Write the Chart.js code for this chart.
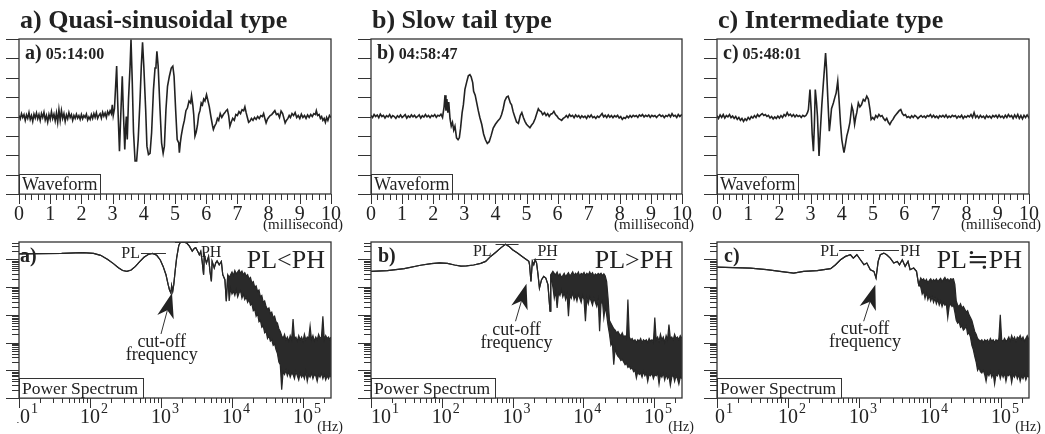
<!DOCTYPE html>
<html>
<head>
<meta charset="utf-8">
<script src="https://cdn.jsdelivr.net/npm/chart.js@4"></script>
<style>
  body { margin: 0; background: #fff; width: 1045px; height: 434px; position: relative; overflow: hidden; }
  canvas { position: absolute; }
</style>
</head>
<body>
<canvas id="waveA" width="350" height="232" style="left:0;top:0"></canvas>
<canvas id="waveB" width="350" height="232" style="left:350px;top:0"></canvas>
<canvas id="waveC" width="350" height="232" style="left:695px;top:0"></canvas>
<canvas id="specA" width="350" height="202" style="left:0;top:232px"></canvas>
<canvas id="specB" width="350" height="202" style="left:350px;top:232px"></canvas>
<canvas id="specC" width="350" height="202" style="left:695px;top:232px"></canvas>
<script>
// ---- data: waveforms [time (ms), amplitude (grid divisions)] ----
const waveTicks = [0, 1, 2, 3, 4, 5, 6, 7, 8, 9, 10];
const waveGrid = [-4, -3, -2, -1, 0, 1, 2, 3, 4];

const waveA = [[0,0.05],[0.04,-0.12],[0.08,0.15],[0.12,-0.05],[0.16,0.1],[0.2,-0.2],[0.24,0.08],[0.28,-0.1],[0.32,0.2],[0.36,-0.15],[0.4,0.05],[0.44,-0.25],[0.48,0.12],[0.52,-0.08],[0.56,0.18],[0.6,-0.12],[0.64,0.1],[0.68,-0.2],[0.72,0.15],[0.76,-0.05],[0.8,0.22],[0.84,-0.18],[0.88,0.05],[0.92,-0.28],[0.96,0.1],[1,-0.15],[1.04,0.25],[1.08,-0.1],[1.12,0.12],[1.16,-0.22],[1.2,0.18],[1.24,-0.3],[1.28,0.35],[1.32,-0.2],[1.36,0.3],[1.4,-0.1],[1.44,0.15],[1.48,-0.25],[1.52,0.08],[1.56,-0.12],[1.6,0.2],[1.64,-0.05],[1.68,0.1],[1.72,-0.2],[1.76,0.05],[1.8,-0.1],[1.84,0.12],[1.88,-0.08],[1.92,0.05],[1.96,-0.15],[2,0.1],[2.04,-0.12],[2.08,0.05],[2.12,-0.05],[2.16,0.12],[2.2,-0.18],[2.24,-0.02],[2.28,-0.15],[2.32,0.1],[2.36,-0.1],[2.4,0.15],[2.44,-0.05],[2.48,0.2],[2.52,-0.1],[2.56,0.05],[2.6,0.15],[2.64,-0.08],[2.68,0.22],[2.72,0.02],[2.76,0.18],[2.8,-0.05],[2.84,0.25],[2.88,0.1],[2.92,0.3],[2.96,0.15],[2.99,0.6],[3.02,0.05],[3.06,0.4],
  [3.13,2.6],[3.16,0.9],[3.22,-1.79],[3.26,0],[3.31,2.08],[3.34,0.5],[3.39,-1.7],[3.42,-0.5],[3.44,0],[3.47,-1.19],[3.51,0.9],[3.56,2.6],[3.59,3.97],[3.63,1.8],[3.67,-0.8],[3.72,-2.3],[3.77,-2.3],[3.82,-1.2],[3.88,0.9],[3.92,2.6],[3.96,3.83],[4,2.6],[4.06,0.36],[4.1,-1.53],[4.15,-1.96],[4.2,-1.9],[4.25,-0.84],[4.31,1.39],[4.36,2.5],[4.39,2.6],[4.42,3.37],[4.46,2.6],[4.52,0.36],[4.57,-1.36],[4.62,-1.9],[4.66,-1.53],[4.71,0.36],[4.76,1.56],[4.82,2.08],[4.88,2.5],[4.93,2.6],[4.97,2.08],[5.02,0.36],[5.07,-1.19],[5.12,-1.36],[5.14,-1.87],[5.17,-1.36],
  [5.2,-1],[5.25,-0.55],[5.3,-0.2],[5.35,0.3],[5.4,0.45],[5.45,0.8],[5.5,0.7],[5.53,1.08],[5.57,0.6],[5.6,0.1],[5.64,-1.01],[5.68,-0.8],[5.72,-0.45],[5.76,0.1],[5.8,0.3],[5.84,0.7],[5.88,0.6],[5.92,0.9],[5.96,0.8],[6.01,1.13],[6.05,0.85],[6.1,0.5],[6.15,0],[6.2,-0.45],[6.23,-0.67],[6.27,-0.5],[6.32,-0.35],[6.36,-0.1],[6.4,-0.2],[6.45,0.15],[6.5,-0.05],[6.55,0.1],[6.6,0.2],[6.64,0.3],[6.68,0.36],[6.72,0.05],[6.76,-0.5],[6.8,-0.3],[6.85,-0.1],[6.9,-0.2],[6.95,0.1],[7,0.05],[7.05,0.25],[7.1,0.15],[7.15,0.35],[7.2,0.3],[7.24,0.5],[7.28,0.2],[7.32,-0.05],[7.36,-0.3],[7.4,-0.25],[7.45,-0.1],[7.5,-0.2],[7.55,-0.05],[7.6,-0.15],[7.65,0],[7.7,-0.1],[7.75,0.05],[7.8,0],[7.84,0.15],[7.88,-0.1],[7.92,-0.33],[7.96,-0.15],[8,-0.05],[8.05,0.05],[8.1,0.1],[8.15,0.2],[8.2,0.3],[8.25,0.1],[8.3,0.15],[8.35,-0.05],[8.4,0.28],[8.45,0.15],[8.5,-0.15],[8.53,-0.33],[8.57,-0.2],[8.62,-0.1],[8.66,0.05],[8.7,-0.05],[8.75,0.15],[8.8,0.05],[8.85,0.2],[8.9,-0.05],[8.95,0.05],[9,-0.1],[9.05,0.12],[9.1,-0.05],[9.15,0.05],[9.2,-0.1],[9.25,0.08],[9.3,-0.05],[9.35,0.1],[9.4,0],[9.45,0.15],[9.5,0.1],[9.53,0.3],[9.57,0.05],[9.62,0.1],[9.66,-0.1],[9.7,0],[9.74,-0.2],[9.78,-0.1],[9.82,-0.3],[9.86,-0.05],[9.9,-0.2],[9.95,0.05],[10,-0.05]];

const waveB = [[0,0.05],[0.05,-0.05],[0.1,0.1],[0.15,0],[0.2,0.08],[0.25,-0.06],[0.3,0.12],[0.35,0],[0.4,0.06],[0.45,-0.08],[0.5,0.04],[0.55,-0.02],[0.6,0.1],[0.65,-0.06],[0.7,0.05],[0.75,0],[0.8,-0.1],[0.85,0.04],[0.9,-0.04],[0.95,0.08],[1,-0.05],[1.05,0.02],[1.1,0.1],[1.15,-0.08],[1.2,0.03],[1.25,-0.04],[1.3,0.08],[1.35,-0.02],[1.4,0.06],[1.45,-0.06],[1.5,0],[1.55,0.08],[1.6,-0.08],[1.65,0.04],[1.7,-0.03],[1.75,0.1],[1.8,-0.02],[1.85,0.05],[1.9,-0.06],[1.95,0.06],[2,0],[2.05,0.1],[2.1,-0.04],[2.15,0.06],[2.2,0.02],[2.25,0.12],[2.3,-0.05],
  [2.35,0.5],[2.38,1.1],[2.41,0.3],[2.44,0.9],[2.47,0.2],[2.5,0.75],[2.54,-0.1],[2.58,-0.5],[2.62,-0.3],[2.66,-0.7],[2.7,-0.5],[2.75,-1.1],[2.8,-1.2],[2.84,-1.1],[2.88,-0.6],[2.93,0.2],[2.97,0.6],[3.02,1.4],[3.08,1.8],[3.13,2.1],[3.18,2.16],[3.22,2.05],[3.27,1.75],[3.3,1.3],[3.35,1.1],[3.4,0.7],[3.45,0.3],[3.5,-0.05],[3.56,-0.4],[3.62,-0.9],[3.68,-1.2],[3.74,-1.39],[3.8,-1.3],[3.86,-1],[3.93,-0.6],[4,-0.4],[4.07,-0.25],[4.15,-0.1],[4.2,0.1],[4.25,0.4],[4.3,0.8],[4.36,1],[4.41,1.05],[4.45,0.85],[4.48,0.7],[4.52,0.6],[4.57,0.25],[4.62,0],[4.68,-0.28],[4.74,-0.35],[4.8,0.05],[4.85,0.2],[4.9,-0.05],[4.95,-0.25],[5,-0.4],[5.06,-0.5],[5.11,-0.58],[5.16,-0.45],[5.22,-0.33],[5.28,-0.1],[5.33,0.15],[5.38,0.4],[5.42,0.3],[5.47,0.25],[5.52,0.1],[5.58,0.2],[5.63,0.05],[5.68,0.15],[5.73,0],[5.78,0.12],[5.83,0.15],[5.88,0.27],[5.93,0.1],[5.98,0.02],[6.03,-0.1],[6.08,-0.15],[6.13,-0.2],[6.18,-0.1],[6.23,-0.05],[6.28,0.05],[6.33,-0.05],[6.38,0.1],[6.43,0],[6.48,0.06],[6.53,-0.06],[6.58,0.08],[6.63,-0.02],[6.68,0.05],[6.73,-0.08],[6.78,0.04],[6.83,-0.05],[6.88,0.02],[6.93,-0.1],[6.98,0.05],[7.03,-0.04],[7.08,0.08],[7.13,-0.06],[7.18,0],[7.23,-0.1],[7.28,0.02],[7.33,-0.05],[7.38,0.05],[7.43,0.15],[7.48,-0.02],[7.53,0.06],[7.58,-0.05],[7.63,0.08],[7.68,-0.04],[7.73,0.05],[7.78,-0.06],[7.83,0.04],[7.88,-0.02],[7.93,0.06],[7.98,-0.08],[8.03,0],[8.08,-0.15],[8.13,-0.05],[8.18,-0.1],[8.23,0.02],[8.28,-0.06],[8.33,0.05],[8.38,-0.04],[8.43,0.06],[8.48,0],[8.53,0.05],[8.58,-0.05],[8.63,0.08],[8.68,0.02],[8.73,0.1],[8.78,-0.02],[8.83,0.06],[8.88,0],[8.93,0.08],[8.98,-0.04],[9.03,0.06],[9.08,0],[9.13,0.05],[9.18,-0.05],[9.23,0.04],[9.28,0.1],[9.33,0],[9.38,0.06],[9.43,-0.06],[9.48,0.05],[9.53,0],[9.58,0.1],[9.63,-0.02],[9.68,0.15],[9.73,0.02],[9.78,0.06],[9.83,-0.05],[9.88,0.1],[9.93,0],[9.98,0.08],[10,0.05]];

const waveC = [[0,0.05],[0.05,-0.1],[0.1,0.08],[0.15,-0.05],[0.2,0.1],[0.25,-0.08],[0.3,0.05],[0.35,-0.02],[0.4,0.1],[0.45,-0.06],[0.5,0.02],[0.55,-0.1],[0.6,0],[0.65,-0.15],[0.7,-0.05],[0.75,-0.2],[0.8,-0.1],[0.85,-0.25],[0.9,-0.12],[0.95,-0.2],[1,-0.05],[1.05,-0.15],[1.1,0],[1.15,-0.08],[1.2,0.05],[1.25,-0.05],[1.3,0.1],[1.35,0],[1.4,0.08],[1.45,0.15],[1.5,0.05],[1.55,0.1],[1.6,0],[1.65,0.06],[1.7,-0.08],[1.75,0],[1.8,-0.12],[1.85,-0.02],[1.9,-0.1],[1.95,0.02],[2,-0.08],[2.05,0.05],[2.1,-0.05],[2.15,0.1],[2.2,0.02],[2.25,0.2],[2.3,0.05],[2.35,0.12],[2.4,0],[2.45,0.1],[2.5,-0.02],[2.55,0.08],[2.6,0],[2.65,0.05],[2.7,-0.05],[2.75,0.06],[2.8,0],[2.85,0.05],
  [2.9,0.2],[2.93,0.36],[2.98,1.39],[3.02,0.3],[3.05,-0.9],[3.09,-1.79],[3.12,-0.5],[3.15,1.39],[3.19,0.7],[3.22,0],[3.27,-2.04],[3.31,-0.8],[3.36,0.6],[3.41,1.74],[3.45,2.6],[3.48,3.28],[3.51,2.5],[3.55,1],[3.6,-0.76],[3.63,-0.3],[3.67,0.4],[3.73,0.7],[3.78,1],[3.82,1.22],[3.87,1.82],[3.91,0.9],[3.96,-0.4],[4,-1.19],[4.04,-1.6],[4.07,-1.87],[4.11,-1.5],[4.16,-1.01],[4.21,-0.7],[4.26,-0.3],[4.32,0.53],[4.36,0.3],[4.41,-0.4],[4.45,0],[4.48,0.2],[4.53,0.7],[4.58,0.5],[4.63,0.6],[4.69,0.88],[4.74,0.8],[4.8,1.05],[4.85,0.9],[4.9,0.4],[4.94,-0.15],[4.99,-0.05],[5.04,-0.15],[5.09,0.05],[5.14,-0.05],[5.19,0.1],[5.24,0],[5.29,0.05],[5.34,-0.1],[5.39,-0.2],[5.44,-0.1],[5.49,-0.3],[5.54,-0.41],[5.59,-0.25],[5.64,-0.15],[5.69,0],[5.74,0.1],[5.79,0.2],[5.84,0.3],[5.89,0.36],[5.94,0.15],[5.99,0.05],[6.04,0.1],[6.09,-0.05],[6.14,0],[6.19,-0.08],[6.24,0.04],[6.29,-0.05],[6.34,0.06],[6.39,0],[6.44,-0.1],[6.49,-0.02],[6.54,0.05],[6.59,-0.04],[6.64,0.02],[6.69,-0.06],[6.74,0.05],[6.79,0],[6.84,0.1],[6.89,-0.04],[6.94,0.06],[6.99,-0.05],[7.04,0.02],[7.09,-0.08],[7.14,0.04],[7.19,-0.02],[7.24,0.06],[7.29,-0.04],[7.34,0.08],[7.39,-0.06],[7.44,0.02],[7.49,-0.04],[7.54,0.06],[7.59,0],[7.64,0.05],[7.69,-0.08],[7.74,0.02],[7.79,-0.04],[7.84,0.06],[7.89,-0.1],[7.94,0.02],[7.99,-0.05],[8.04,0.05],[8.09,-0.02],[8.14,0.1],[8.19,-0.05],[8.24,0.2],[8.29,-0.05],[8.34,0.05],[8.39,-0.08],[8.44,0.06],[8.49,-0.04],[8.54,0.02],[8.59,-0.1],[8.64,0.05],[8.69,-0.05],[8.74,0.02],[8.79,-0.08],[8.84,0.05],[8.89,-0.02],[8.94,0.06],[8.99,-0.06],[9.04,0.08],[9.09,-0.04],[9.14,0.02],[9.19,-0.08],[9.24,0.06],[9.29,-0.05],[9.34,0.1],[9.39,-0.02],[9.44,0.05],[9.49,-0.1],[9.54,0.08],[9.59,-0.06],[9.64,0.1],[9.69,-0.1],[9.74,0.05],[9.79,-0.12],[9.84,0.06],[9.89,-0.05],[9.94,0.08],[9.99,-0.05],[10,0]];

// ---- data: power spectra, [log10 f, log10 power] then noisy band [log10 f, upper, lower] ----
const freqDecades = [1, 2, 3, 4, 5];
const powerDecades = [0, 1, 2, 3, 4, 5];

const specA_line = [[1,5.2],[1.3,5.21],[1.6,5.22],[1.9,5.25],[2.05,5.22],[2.15,5.15],[2.25,5],[2.33,4.85],[2.4,4.7],[2.46,4.6],[2.52,4.57],[2.58,4.62],[2.64,4.75],[2.7,4.92],[2.76,5.08],[2.82,5.18],[2.88,5.22],[2.94,5.15],[2.99,4.98],[3.03,4.75],[3.07,4.45],[3.1,4.1],[3.12,3.9],[3.14,3.79],[3.15,4.05],[3.165,3.85],[3.18,4.1],[3.2,4.6],[3.22,5.05],[3.25,5.5],[3.28,5.66],[3.32,5.62],[3.36,5.6],[3.4,5.48],[3.44,5.3],[3.47,5.4],[3.49,5.42],[3.52,5.28],[3.54,5.17],[3.56,5.29],[3.58,4.93],[3.6,4.45],[3.61,5.17],[3.64,4.87],[3.67,5.11],[3.69,4.57],[3.71,4.21],[3.72,4.93],[3.75,4.69],[3.77,4.87],[3.79,4.95],[3.82,4.81],[3.85,4.93],[3.87,4.45],[3.9,4.27],[3.92,3.49],[3.94,4.45]];
const specA_band = [[3.96,4.35,3.5],[3.98,4.45,3.95],[4,4.55,3.75],[4.02,4.42,3.85],[4.04,4.6,3.7],[4.06,4.48,3.9],[4.08,4.55,3.65],[4.1,4.62,3.8],[4.12,4.5,3.88],[4.14,4.58,3.6],[4.16,4.45,3.75],[4.18,4.52,3.55],[4.2,4.4,3.65],[4.22,4.45,3.45],[4.24,4.3,3.55],[4.26,4.35,3.35],[4.28,4.15,3.4],[4.3,4.2,3.15],[4.32,4,3.2],[4.34,4.05,2.95],[4.36,3.85,3.05],[4.38,3.9,2.75],[4.4,3.65,2.8],[4.42,3.7,2.55],[4.44,3.45,2.6],[4.46,3.5,2.35],[4.48,3.3,2.4],[4.5,3.2,2.15],[4.52,3.25,2.25],[4.54,3.05,2.05],[4.56,3.1,2.1],[4.58,2.9,1.9],[4.6,2.95,1.95],[4.62,2.75,1.75],[4.64,2.7,1.6],[4.66,2.5,1.3],[4.68,2.4,1.2],[4.7,2.25,0.3],[4.72,2.15,0.95],[4.74,2.3,0.85],[4.76,2.1,1],[4.78,2.2,0.8],[4.8,2.05,0.95],[4.82,2.25,0.75],[4.84,2.1,0.9],[4.86,2.85,0.85],[4.88,2.15,0.7],[4.9,2.2,0.95],[4.92,2.05,0.8],[4.94,2.25,0.65],[4.96,2.1,0.9],[4.98,2.2,0.75],[5,2.05,0.85],[5.02,2.3,0.7],[5.04,2.1,0.95],[5.06,2.2,0.6],[5.08,2.15,0.85],[5.1,2.6,0.75],[5.12,2.1,0.9],[5.14,2.25,0.7],[5.16,2.05,0.85],[5.18,2.2,0.8],[5.2,2.1,0.6],[5.22,2.3,0.85],[5.24,2.15,0.75],[5.26,2.2,0.9],[5.28,2.95,0.7],[5.3,2.1,0.85],[5.32,2.25,0.65],[5.34,2.15,0.8],[5.36,2.2,0.7],[5.38,2.1,0.85],[5.394,2.2,0.75]];

const specB_line = [[1,4.57],[1.23,4.6],[1.47,4.67],[1.7,4.79],[1.85,4.85],[1.97,4.88],[2.08,4.86],[2.18,4.8],[2.27,4.76],[2.35,4.77],[2.45,4.8],[2.55,4.86],[2.62,4.93],[2.69,5.11],[2.76,5.25],[2.83,5.41],[2.9,5.55],[2.95,5.47],[3,5.35],[3.07,5.23],[3.14,5.1],[3.2,4.99],[3.23,4.93],[3.24,4.81],[3.26,4.21],[3.28,4.93],[3.3,4.81],[3.32,4.99],[3.34,4.87],[3.36,4.45],[3.38,3.97],[3.41,4.27],[3.44,4.39],[3.47,4.33],[3.5,4.09],[3.53,3.13],[3.54,4.45]];
const specB_band = [[3.57,4.57,4],[3.59,4.5,3.6],[3.61,4.45,3.85],[3.63,4.55,3.25],[3.65,4.4,3.8],[3.67,4.48,3.7],[3.69,4.35,3.9],[3.71,4.42,3.65],[3.73,4.5,3.8],[3.75,4.38,3.55],[3.77,4.45,3.75],[3.79,4.52,2.95],[3.81,4.4,3.7],[3.83,4.47,3.6],[3.85,4.55,3.8],[3.87,4.42,3.55],[3.89,4.5,3.7],[3.91,4.45,3.5],[3.93,4.55,3.75],[3.95,4.4,3.6],[3.97,4.5,3.45],[3.99,4.46,3.7],[4.01,4.53,3.55],[4.03,4.42,2.77],[4.05,4.5,3.6],[4.07,4.44,3.4],[4.09,4.55,3.65],[4.11,4.45,3.5],[4.13,4.52,3.35],[4.15,4.4,3.6],[4.17,4.48,3.45],[4.19,4.43,3.3],[4.21,4.5,3.55],[4.23,4.45,2.41],[4.25,4.5,3.4],[4.27,4.42,3.5],[4.29,4.48,2.9],[4.31,4.4,3.3],[4.33,4.2,3],[4.35,3.6,2.6],[4.37,2.8,2.3],[4.39,2.7,1.9],[4.41,2.6,2],[4.43,2.5,1.2],[4.45,2.45,1.8],[4.47,2.35,1.6],[4.49,2.4,1.5],[4.51,2.3,1.45],[4.53,2.25,1.35],[4.55,2.35,1.4],[4.57,2.2,1.3],[4.59,2.25,1.2],[4.61,2.15,1.25],[4.63,3.55,1.1],[4.65,2.2,1.15],[4.67,2.1,1.05],[4.69,2.15,1.1],[4.71,2.05,0.95],[4.73,2.1,1],[4.75,2,0.72],[4.77,2.1,0.95],[4.79,2.05,0.85],[4.81,2.15,0.9],[4.83,2,0.75],[4.85,2.1,0.95],[4.87,2.05,0.8],[4.89,2.1,0.9],[4.91,2,0.6],[4.93,2.15,0.85],[4.95,2.05,0.8],[4.97,2.1,0.9],[4.99,2,0.7],[5.01,2.9,0.85],[5.03,2.1,0.8],[5.05,2.2,0.9],[5.07,2.05,0.5],[5.09,2.3,0.85],[5.11,2.1,0.75],[5.13,2.2,0.9],[5.15,2,0.65],[5.17,2.25,0.85],[5.19,2.1,0.7],[5.21,2.65,0.8],[5.23,2.15,0.45],[5.25,2.2,0.75],[5.27,2.1,0.85],[5.29,2.3,0.6],[5.31,2.15,0.8],[5.33,2.2,0.7],[5.35,2.1,0.5],[5.37,2.25,0.75],[5.394,2.15,0.7]];

const specC_line = [[1,4.72],[1.47,4.69],[1.7,4.63],[1.94,4.55],[2.08,4.51],[2.22,4.57],[2.41,4.6],[2.6,4.67],[2.67,4.81],[2.74,4.99],[2.81,5.11],[2.88,5.17],[2.92,5.05],[2.97,5.17],[3.02,4.99],[3.07,4.81],[3.11,4.87],[3.16,4.63],[3.21,4.57],[3.24,4.33],[3.27,4.93],[3.3,5.17],[3.35,5.23],[3.39,5.17],[3.44,5.05],[3.49,4.87],[3.54,4.93],[3.57,4.81],[3.61,4.99],[3.65,4.75],[3.69,4.93],[3.72,4.63],[3.77,4.69],[3.81,4.57],[3.84,4.09]];
const specC_band = [[3.87,4.33,4],[3.89,4.25,3.75],[3.91,4.3,3.85],[3.93,4.2,3.6],[3.95,4.28,3.8],[3.97,4.15,3.55],[3.99,4.25,3.7],[4.01,4.3,3.5],[4.03,4.2,3.65],[4.05,4.28,3.45],[4.07,4.22,3.6],[4.09,4.3,3.4],[4.11,4.2,3.55],[4.13,4.26,3.35],[4.15,4.32,3.5],[4.17,4.2,3.3],[4.19,4.28,3.45],[4.21,4.35,3.35],[4.23,4.25,3.4],[4.25,4.3,2.9],[4.27,4.22,3.3],[4.29,4.3,3.4],[4.31,4.28,3.3],[4.33,4.3,3.35],[4.35,4.1,3.1],[4.37,3.5,2.8],[4.39,3.35,2.7],[4.41,3.3,2.75],[4.43,3.4,2.55],[4.45,3.25,2.6],[4.47,3.3,2.45],[4.49,3.2,2.5],[4.51,3.1,2.6],[4.53,3.15,2.3],[4.55,3,2.35],[4.57,2.9,2.2],[4.59,2.8,1.9],[4.61,2.6,1.75],[4.63,2.4,1.5],[4.65,2.3,1.3],[4.67,2.15,1],[4.69,2.1,1.1],[4.71,2.05,0.95],[4.73,2.1,0.9],[4.75,2,1],[4.77,2.1,0.85],[4.79,2.05,0.6],[4.81,2.1,0.9],[4.83,2,0.8],[4.85,2.15,0.95],[4.87,2.05,0.75],[4.89,2.1,0.9],[4.91,2,0.5],[4.93,2.1,0.85],[4.95,2.05,0.8],[4.97,2.15,0.95],[4.99,3,0.7],[5.01,2.1,0.9],[5.03,2.05,0.75],[5.05,2.15,0.9],[5.07,2.05,0.6],[5.09,2.1,0.85],[5.11,2.2,0.8],[5.13,2.05,0.9],[5.15,2.25,0.55],[5.17,2.1,0.85],[5.19,2.2,0.75],[5.21,2.05,0.9],[5.23,2.2,0.7],[5.25,2.15,0.85],[5.27,2.25,0.6],[5.29,2.1,0.8],[5.31,2.2,0.7],[5.33,2.05,0.85],[5.35,2.15,0.65],[5.37,2.25,0.8],[5.394,2.1,0.75]];

// ---- texts ----
const titles = ['a) Quasi-sinusoidal type', 'b) Slow tail type', 'c) Intermediate type'];
const tags = ['a)', 'b)', 'c)'];
const stamps = ['05:14:00', '04:58:47', '05:48:01'];
const ratios = ['PL<PH', 'PL>PH', 'PL\u2252PH'];

const serif = '"Liberation Serif", "DejaVu Serif", serif';
const ink = '#222';

function line(ctx, x1, y1, x2, y2) {
    ctx.beginPath();
    ctx.moveTo(x1, y1);
    ctx.lineTo(x2, y2);
    ctx.stroke();
}

function labelBox(ctx, text, left, bottom, w, size) {
    ctx.fillStyle = '#fff';
    ctx.fillRect(left, bottom - 20, w, 20);
    ctx.strokeRect(left + 0.5, bottom - 19.5, w, 19.5);
    ctx.fillStyle = ink;
    ctx.font = size + 'px ' + serif;
    ctx.textAlign = 'left';
    ctx.fillText(text, left + 3, bottom - 4);
}

function drawWaveAxes(chart, o) {
    const { ctx, chartArea: a } = chart;
    const x = chart.scales.x, y = chart.scales.y;
    waveGrid.forEach(v => {
        const py = Math.round(y.getPixelForValue(v)) + 0.5;
        line(ctx, a.left - 13, py, a.left, py);
    });
    for (let i = 0; i <= 50; i++) {
        const px = Math.round(x.getPixelForValue(i / 5)) + 0.5;
        line(ctx, px, a.bottom, px, a.bottom + (i % 5 ? 6 : 10));
    }
    ctx.textAlign = 'center';
    ctx.font = '20px ' + serif;
    waveTicks.forEach(v => ctx.fillText(String(v), x.getPixelForValue(v), a.bottom + 26));
    ctx.font = '15px ' + serif;
    ctx.fillText('(millisecond)', a.right - 28, a.bottom + 35);

    ctx.textAlign = 'left';
    ctx.font = 'bold 26px ' + serif;
    ctx.fillText(o.title, a.left + 1, 28);
    ctx.font = 'bold 20px ' + serif;
    ctx.fillText(o.tag, a.left + o.tagDx, a.top + 20);
    const w = ctx.measureText(o.tag).width;
    ctx.font = 'bold 16px ' + serif;
    ctx.fillText(o.stamp, a.left + o.tagDx + w + 4, a.top + 20);
    labelBox(ctx, 'Waveform', a.left, a.bottom, 81, 18);
}

function drawSpecAxes(chart, o) {
    const { ctx, chartArea: a } = chart;
    const x = chart.scales.x, y = chart.scales.y;
    const px = lf => x.getPixelForValue(Math.pow(10, lf));
    const py = v => y.getPixelForValue(v);

    powerDecades.forEach(n => {
        for (let k = 1; k <= 9; k++) {
            const v = n + Math.log10(k);
            if (v > y.max) break;
            const yy = Math.round(py(v)) + 0.5;
            line(ctx, a.left - (k === 1 ? 13 : 7), yy, a.left, yy);
        }
    });
    freqDecades.forEach(n => {
        for (let k = 1; k <= 9; k++) {
            const f = k * Math.pow(10, n);
            if (f > x.max) break;
            const xx = Math.round(x.getPixelForValue(f)) + 0.5;
            line(ctx, xx, a.bottom, xx, a.bottom + (k === 1 ? 10 : 5));
        }
    });

    // 10^n labels
    ctx.textAlign = 'left';
    freqDecades.forEach((n, i) => {
        ctx.font = '20px ' + serif;
        const wb = ctx.measureText('10').width;
        let start = px(n) - wb / 2;
        ctx.save();
        if (i === 0) {
            start = a.left + o.firstDx;
            if (o.clipFirst) {
                ctx.beginPath();
                ctx.rect(a.left - 2, 0, 200, chart.height);
                ctx.clip();
            }
        }
        ctx.fillText('10', start, a.bottom + 25);
        ctx.font = '14px ' + serif;
        ctx.fillText(String(n), start + wb + 1, a.bottom + 15);
        ctx.restore();
    });
    ctx.textAlign = 'center';
    ctx.font = '14px ' + serif;
    ctx.fillText('(Hz)', a.right - 1, a.bottom + 33);

    labelBox(ctx, 'Power Spectrum', a.left, a.bottom, 124, 17.5);

    ctx.textAlign = 'left';
    ctx.font = 'bold 20px ' + serif;
    ctx.fillText(o.tag, a.left + o.tagDx, a.top + 20);
    ctx.textAlign = 'right';
    ctx.font = '26px ' + serif;
    ctx.fillText(o.ratio, a.right - o.ratioDx, a.top + 26);

    // PL / PH markers
    ctx.font = '16px ' + serif;
    line(ctx, px(o.pl.x1), Math.round(py(o.pl.v)) + 0.5, px(o.pl.x2), Math.round(py(o.pl.v)) + 0.5);
    ctx.textAlign = 'right';
    ctx.fillText('PL', px(o.pl.tx), py(o.pl.tv));
    line(ctx, px(o.ph.x1), Math.round(py(o.ph.v)) + 0.5, px(o.ph.x2), Math.round(py(o.ph.v)) + 0.5);
    ctx.textAlign = 'left';
    ctx.fillText('PH', px(o.ph.tx), py(o.ph.tv));

    // cut-off arrow
    const ar = o.arrow;
    const T = [px(ar.tip[0]), py(ar.tip[1])], S = [px(ar.tail[0]), py(ar.tail[1])];
    const len = Math.hypot(T[0] - S[0], T[1] - S[1]);
    const d = [(T[0] - S[0]) / len, (T[1] - S[1]) / len], n = [-d[1], d[0]];
    const L = 25, hw = 8.5;
    const B = [T[0] - d[0] * L, T[1] - d[1] * L];
    const N = [T[0] - d[0] * L * 0.72, T[1] - d[1] * L * 0.72];
    line(ctx, S[0], S[1], N[0], N[1]);
    ctx.beginPath();
    ctx.moveTo(T[0], T[1]);
    ctx.lineTo(B[0] + n[0] * hw, B[1] + n[1] * hw);
    ctx.lineTo(N[0], N[1]);
    ctx.lineTo(B[0] - n[0] * hw, B[1] - n[1] * hw);
    ctx.closePath();
    ctx.fill();
    ctx.textAlign = 'center';
    ctx.font = '18px ' + serif;
    ctx.fillText('cut-off', px(ar.tx), py(ar.v1));
    ctx.fillText('frequency', px(ar.tx), py(ar.v2));
}

const framePlugin = {
    id: 'frame',
    afterDatasetsDraw(chart, args, o) {
        if (!o.kind) return;
        const { ctx, chartArea: a } = chart;
        ctx.save();
        ctx.strokeStyle = '#333';
        ctx.fillStyle = ink;
        ctx.lineWidth = 1.3;
        ctx.strokeRect(a.left, a.top, a.right - a.left, a.bottom - a.top);
        ctx.lineWidth = 1;
        if (o.kind === 'wave') drawWaveAxes(chart, o);
        else drawSpecAxes(chart, o);
        ctx.restore();
    }
};
Chart.register(framePlugin);

const toPoints = pairs => pairs.map(p => ({ x: p[0], y: p[1] }));

function waveChart(id, pairs, pad, o) {
    return new Chart(document.getElementById(id), {
        type: 'line',
        data: {
            datasets: [{
                data: toPoints(pairs),
                borderColor: '#222',
                borderWidth: 1.6,
                pointRadius: 0,
                tension: 0
            }]
        },
        options: {
            responsive: false,
            animation: false,
            layout: { padding: { left: pad[0], right: pad[1], top: 39, bottom: 38 } },
            scales: {
                x: { type: 'linear', min: 0, max: 10, display: false },
                y: { min: -4, max: 4, display: false }
            },
            plugins: { legend: { display: false }, tooltip: { enabled: false }, frame: Object.assign({ kind: 'wave' }, o) }
        }
    });
}

function specChart(id, lineData, band, pad, o) {
    const smooth = lineData.map(p => ({ x: Math.pow(10, p[0]), y: p[1] }));
    const upper = smooth.concat(band.map(b => ({ x: Math.pow(10, b[0]), y: b[1] })));
    const lower = smooth.concat(band.map(b => ({ x: Math.pow(10, b[0]), y: b[2] })));
    return new Chart(document.getElementById(id), {
        type: 'line',
        data: {
            datasets: [
                { data: upper, borderColor: '#262626', borderWidth: 1.2, pointRadius: 0, fill: false },
                { data: lower, borderColor: '#262626', borderWidth: 1.2, pointRadius: 0, fill: '-1', backgroundColor: '#2a2a2a' }
            ]
        },
        options: {
            responsive: false,
            animation: false,
            layout: { padding: { left: pad[0], right: pad[1], top: 10, bottom: 36 } },
            scales: {
                x: { type: 'logarithmic', min: 10, max: 248000, display: false },
                y: { min: 0, max: 5.63, display: false }
            },
            plugins: { legend: { display: false }, tooltip: { enabled: false }, frame: Object.assign({ kind: 'spec' }, o) }
        }
    });
}

waveChart('waveA', waveA, [19, 19], { title: titles[0], tag: tags[0], stamp: stamps[0], tagDx: 6 });
waveChart('waveB', waveB, [21, 18], { title: titles[1], tag: tags[1], stamp: stamps[1], tagDx: 6 });
waveChart('waveC', waveC, [22, 16], { title: titles[2], tag: tags[2], stamp: stamps[2], tagDx: 6 });

specChart('specA', specA_line, specA_band, [19, 19], {
    tag: tags[0], tagDx: 1, ratio: ratios[0], ratioDx: 6, firstDx: -9, clipFirst: true,
    pl: { x1: 2.718, x2: 3.07, v: 5.23, tx: 2.704, tv: 5.05 },
    ph: { x1: 3.197, x2: 3.52, v: 5.62, tx: 3.563, tv: 5.09 },
    arrow: { tip: [3.155, 3.79], tail: [3.0, 2.31], tx: 3.01, v1: 1.84, v2: 1.37 }
});
specChart('specB', specB_line, specB_band, [21, 18], {
    tag: tags[1], tagDx: 7, ratio: ratios[1], ratioDx: 9, firstDx: 0, clipFirst: false,
    pl: { x1: 2.76, x2: 3.085, v: 5.56, tx: 2.704, tv: 5.13 },
    ph: { x1: 3.296, x2: 3.606, v: 5.02, tx: 3.352, tv: 5.13 },
    arrow: { tip: [3.197, 4.12], tail: [3.042, 2.77], tx: 3.056, v1: 2.27, v2: 1.81 }
});
specChart('specC', specC_line, specC_band, [22, 16], {
    tag: tags[2], tagDx: 7, ratio: ratios[2], ratioDx: 7, firstDx: -12, clipFirst: true,
    pl: { x1: 2.718, x2: 3.07, v: 5.34, tx: 2.718, tv: 5.13 },
    ph: { x1: 3.225, x2: 3.563, v: 5.34, tx: 3.577, tv: 5.13 },
    arrow: { tip: [3.23, 4.09], tail: [3.066, 2.77], tx: 3.085, v1: 2.31, v2: 1.84 }
});
</script>
</body>
</html>
